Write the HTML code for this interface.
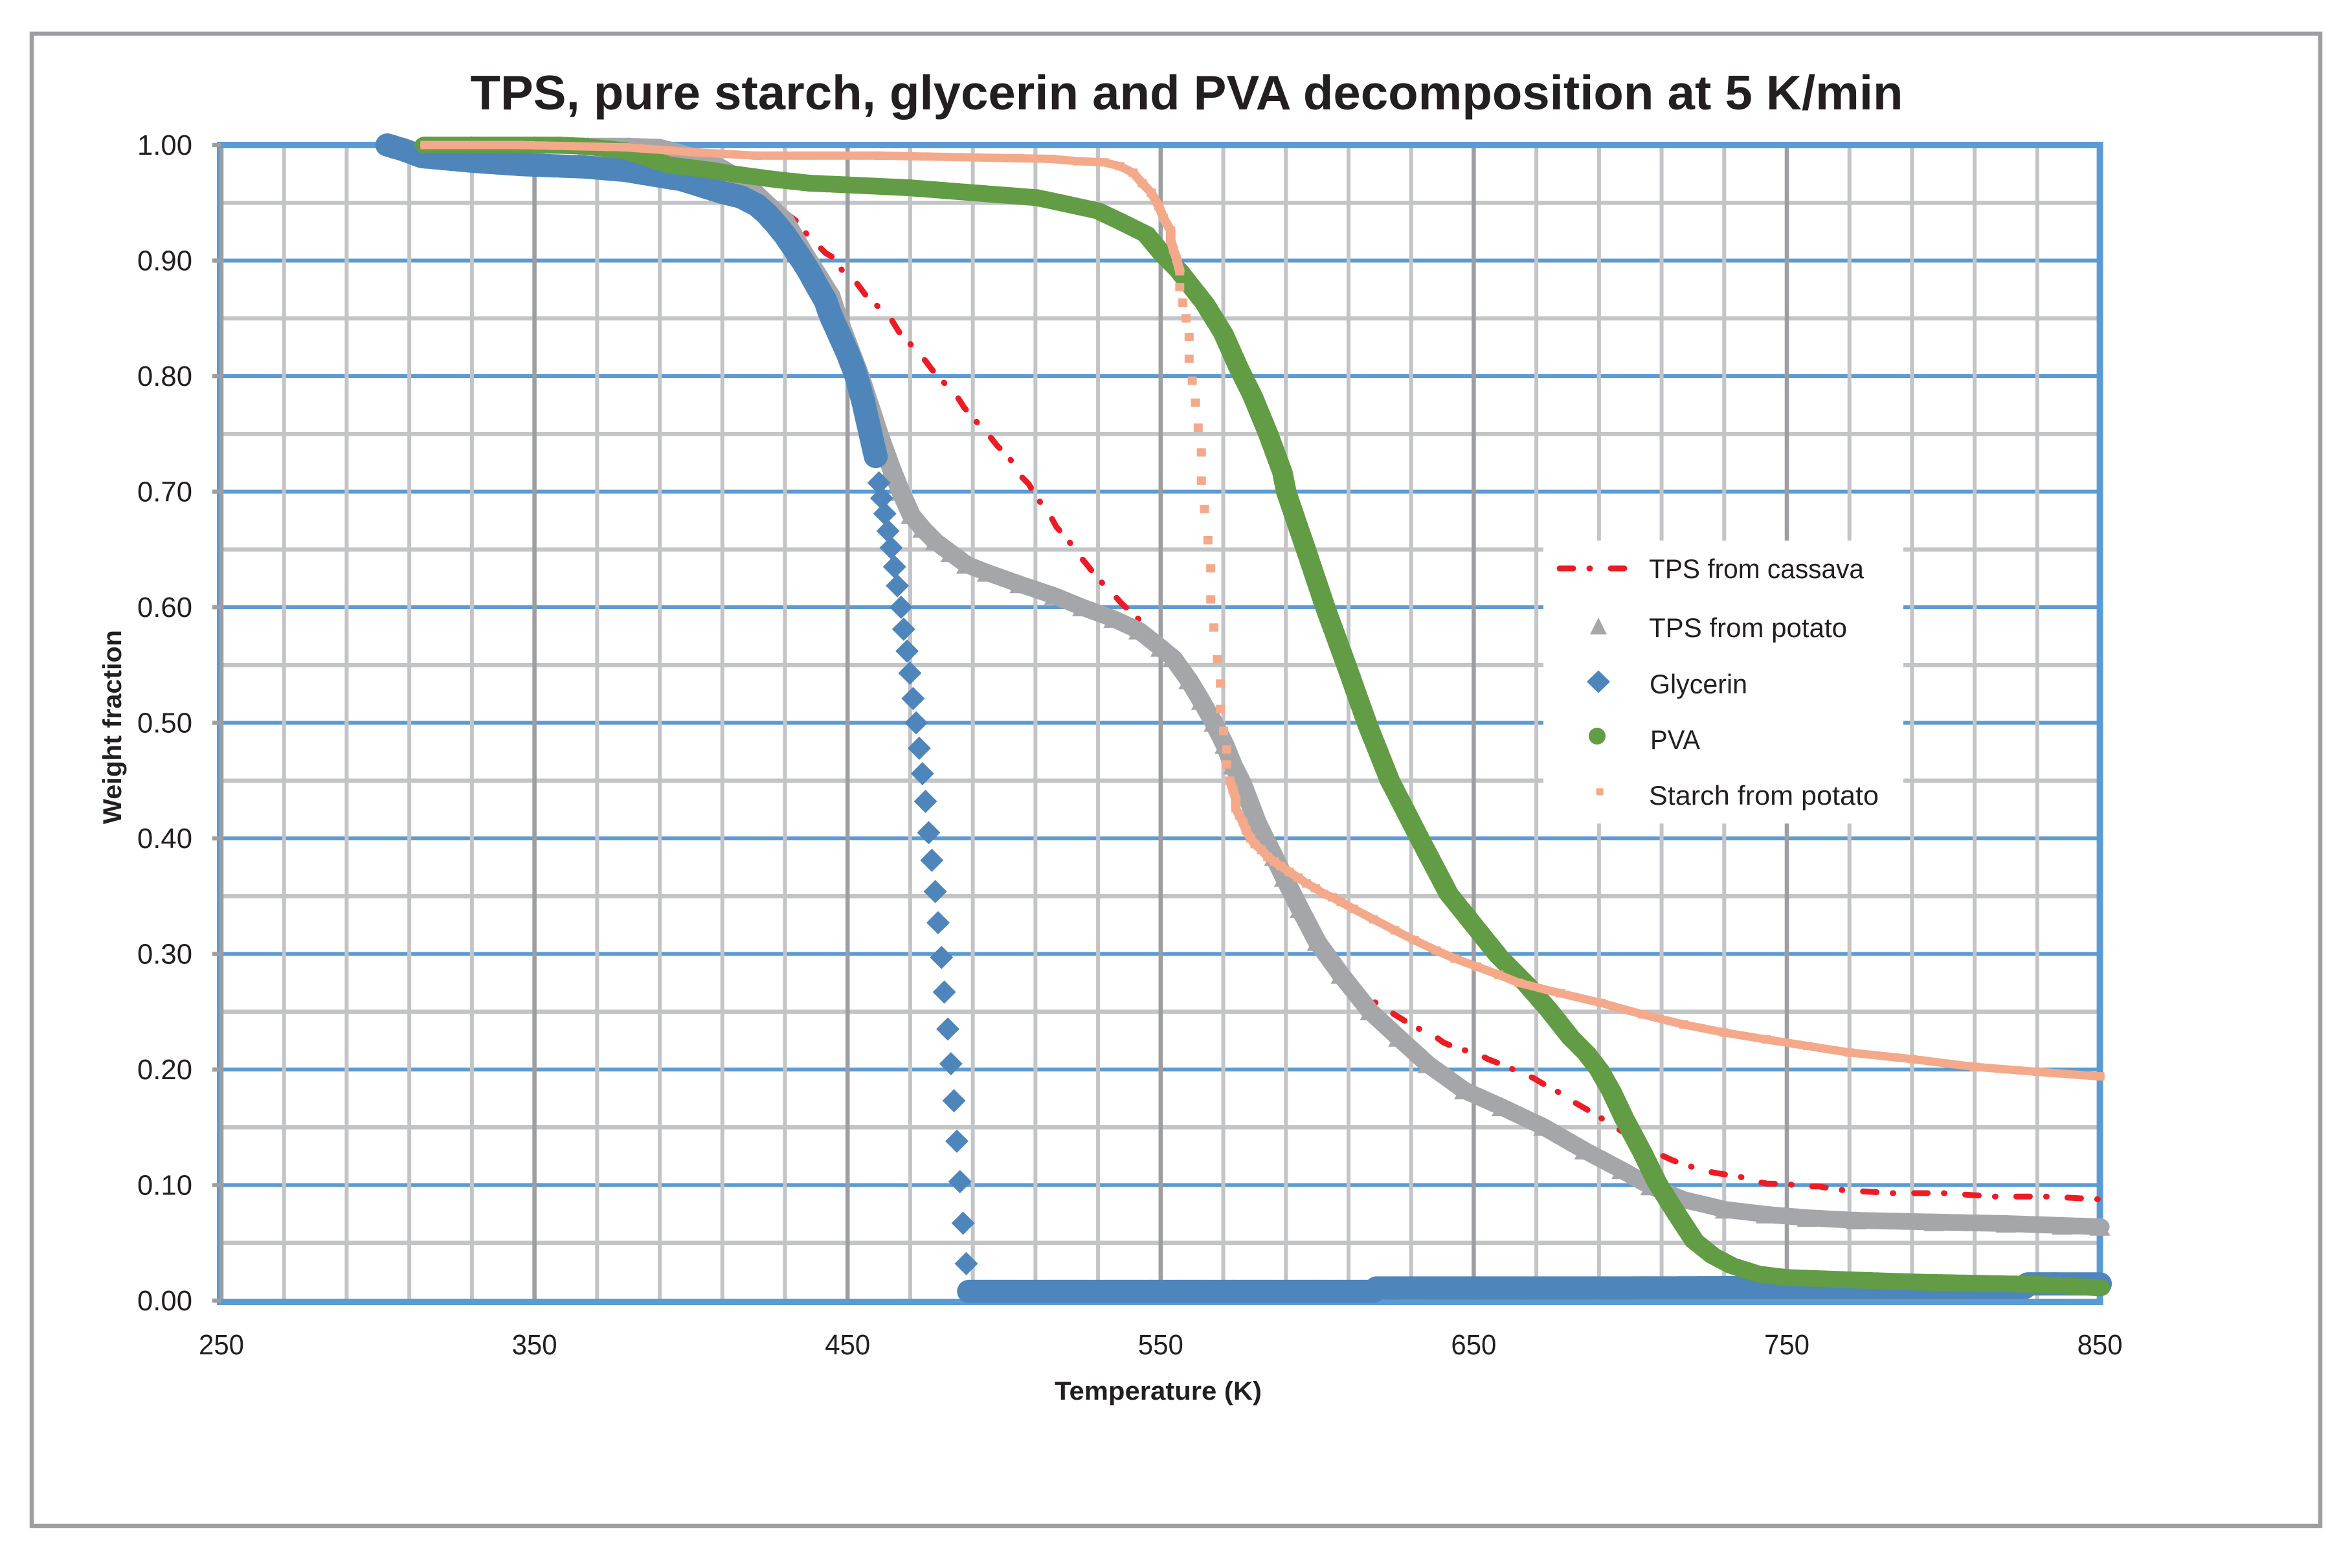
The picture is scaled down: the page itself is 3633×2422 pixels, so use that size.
<!DOCTYPE html>
<html lang="en">
<head>
<meta charset="utf-8">
<title>TPS, pure starch, glycerin and PVA decomposition at 5 K/min</title>
<style>
html,body{margin:0;padding:0;background:#fff;}
svg{display:block;}
text{font-family:"Liberation Sans",sans-serif;fill:#231f20;}
</style>
</head>
<body>
<svg id="chart" xmlns="http://www.w3.org/2000/svg" width="3633" height="2422" viewBox="0 0 3633 2422">
  <rect x="0" y="0" width="3633" height="2422" fill="#ffffff"/>
  <rect x="49" y="52" width="3535" height="2305" fill="#ffffff" stroke="#9d9ea1" stroke-width="6.5"/>
  <text x="1833" y="169" font-size="75" font-weight="700" text-anchor="middle" textLength="2213" lengthAdjust="spacingAndGlyphs">TPS, pure starch, glycerin and PVA decomposition at 5 K/min</text>
  <g id="grid"></g>
  <g id="series"></g>
  <g id="axes"></g>
  <text x="1789" y="2162" font-size="40" font-weight="700" text-anchor="middle" textLength="320" lengthAdjust="spacingAndGlyphs">Temperature (K)</text>
  <text x="0" y="0" transform="translate(187 1123) rotate(-90)" font-size="40" font-weight="700" text-anchor="middle" textLength="300" lengthAdjust="spacingAndGlyphs">Weight fraction</text>
  <g>
    <rect x="2384" y="835" width="556" height="437" fill="#ffffff"/>
    <g>
      <path d="M2409 878H2509" fill="none" stroke="#ed1c24" stroke-width="9" stroke-linecap="round" stroke-dasharray="21 25 1 32"/>
      <text x="2547" y="893" font-size="42" textLength="332" lengthAdjust="spacingAndGlyphs">TPS from cassava</text>
    </g>
    <g>
      <path d="M2469 954L2482 980H2456Z" fill="#a5a6a9"/>
      <text x="2547" y="984" font-size="42" textLength="306" lengthAdjust="spacingAndGlyphs">TPS from potato</text>
    </g>
    <g>
      <path d="M2469 1035.500L2487 1053L2469 1070.500L2451 1053Z" fill="#4e86bc"/>
      <text x="2548" y="1071" font-size="42" textLength="151" lengthAdjust="spacingAndGlyphs">Glycerin</text>
    </g>
    <g>
      <circle cx="2467" cy="1137" r="13" fill="#629c44"/>
      <text x="2549" y="1157" font-size="42" textLength="77" lengthAdjust="spacingAndGlyphs">PVA</text>
    </g>
    <g>
      <rect x="2465.500" y="1217.500" width="11" height="11" rx="2" fill="#f4a98a"/>
      <text x="2547" y="1243" font-size="42" textLength="355" lengthAdjust="spacingAndGlyphs">Starch from potato</text>
    </g>
  </g>
</svg>
<script>
const xMajorValues = [250, 350, 450, 550, 650, 750, 850];
const xMinorValues = [270, 290, 310, 330, 370, 390, 410, 430, 470, 490, 510, 530, 570, 590, 610, 630, 670, 690, 710, 730, 770, 790, 810, 830];
const yMajorValues = [0, 0.1, 0.2, 0.3, 0.4, 0.5, 0.6, 0.7, 0.8, 0.9, 1];
const yMinorValues = [0.05, 0.15, 0.25, 0.35, 0.45, 0.55, 0.65, 0.75, 0.85, 0.95];
const xTickLabels = ["250", "350", "450", "550", "650", "750", "850"];
const yTickLabels = ["0.00", "0.10", "0.20", "0.30", "0.40", "0.50", "0.60", "0.70", "0.80", "0.90", "1.00"];

const cassavaT = [430, 433.7, 437, 443, 445.2, 448.4, 452.8, 455.8, 459.8, 464, 466.4, 470.3, 474, 477, 480.7, 484.6, 487.3, 491, 494.9, 497.8, 501.7, 504.7, 507.8, 510.7, 514.4, 516.7, 520.2, 523.5, 526.7, 530.1, 534.1, 537.6, 541.4, 545.9, 548.8, 553, 560, 567, 575, 583, 590, 598, 604, 612, 618, 623, 626.8, 631.4, 636.7, 640.4, 645, 650.8, 654.5, 660, 665, 669, 673.7, 678.5, 682, 687, 691.8, 695.3, 706.5, 708.6, 713.7, 719.4, 723, 728.8, 734.8, 738.4, 743.9, 750, 753.9, 760, 768, 784, 800, 816, 832.7, 850];
const cassavaW = [0.9417, 0.934, 0.9227, 0.9065, 0.903, 0.891, 0.881, 0.87, 0.86, 0.849, 0.8384, 0.827, 0.8164, 0.8055, 0.7946, 0.784, 0.7726, 0.761, 0.7497, 0.7397, 0.7294, 0.7154, 0.7068, 0.6939, 0.681, 0.6695, 0.659, 0.6466, 0.636, 0.6243, 0.6137, 0.6031, 0.5937, 0.5822, 0.5722, 0.556, 0.53, 0.5, 0.455, 0.4, 0.36, 0.32, 0.29, 0.262, 0.259, 0.2505, 0.2441, 0.2364, 0.2304, 0.2233, 0.218, 0.2144, 0.209, 0.2033, 0.197, 0.1927, 0.1852, 0.1784, 0.1718, 0.1641, 0.1561, 0.1498, 0.1318, 0.1275, 0.1212, 0.116, 0.1126, 0.1098, 0.1075, 0.104, 0.1012, 0.1012, 0.0989, 0.0988, 0.0956, 0.093, 0.093, 0.0901, 0.0901, 0.0877];

const potatoT = [330, 350, 367, 380, 390, 397, 403, 410, 417, 424, 430, 436, 444.6, 447, 454, 460, 464, 467, 470.3, 474, 478, 483, 488, 494.6, 505, 516, 525, 535, 543, 550, 554, 559, 563, 567, 570.5, 573.2, 576, 578.7, 580.8, 583.5, 586.3, 589.5, 594.5, 600, 607.6, 616.9, 626, 635.3, 647, 659, 672.3, 685.4, 697.3, 706.5, 717, 730.3, 743.4, 756.6, 772, 797, 820, 838, 850];
const potatoW = [1, 1, 0.999, 0.999, 0.998, 0.993, 0.988, 0.98, 0.968, 0.95, 0.935, 0.907, 0.87, 0.85, 0.8, 0.75, 0.72, 0.7, 0.68, 0.668, 0.657, 0.647, 0.637, 0.63, 0.62, 0.61, 0.6, 0.59, 0.58, 0.565, 0.556, 0.537, 0.519, 0.5, 0.481, 0.463, 0.448, 0.429, 0.414, 0.399, 0.384, 0.366, 0.339, 0.3105, 0.282, 0.2504, 0.2276, 0.2047, 0.182, 0.1675, 0.1504, 0.13, 0.113, 0.099, 0.0874, 0.0789, 0.0746, 0.0717, 0.0695, 0.068, 0.0667, 0.065, 0.064];

const glycerinT = [303, 308, 314, 330, 346, 366, 379, 397, 410, 416, 421, 424, 427, 430, 432, 434, 436, 438, 440, 441.5, 443, 444, 445, 446, 447, 448, 449, 450, 451, 452, 453, 454, 455, 456, 457, 458, 459, 460, 460.9, 461.9, 462.9, 463.9, 465, 465.9, 467.1, 467.9, 469, 469.9, 470.9, 471.9, 472.9, 473.9, 474.9, 475.9, 476.9, 478, 478.9, 480, 480.9, 482, 483, 484, 484.9, 485.9, 486.9, 487.9, 488.8, 520, 560, 600, 618, 619, 660, 700, 750, 790, 826, 827, 850];
const glycerinW = [1, 0.996, 0.99, 0.986, 0.983, 0.981, 0.978, 0.97, 0.959, 0.955, 0.948, 0.941, 0.932, 0.922, 0.914, 0.906, 0.898, 0.889, 0.879, 0.872, 0.865, 0.857, 0.85, 0.844, 0.838, 0.832, 0.826, 0.82, 0.813, 0.806, 0.798, 0.788, 0.778, 0.766, 0.754, 0.742, 0.7305, 0.7076, 0.6944, 0.681, 0.666, 0.6515, 0.635, 0.6186, 0.6, 0.581, 0.562, 0.543, 0.521, 0.5, 0.478, 0.456, 0.432, 0.405, 0.381, 0.354, 0.327, 0.297, 0.267, 0.235, 0.205, 0.173, 0.138, 0.103, 0.067, 0.032, 0.008, 0.008, 0.008, 0.008, 0.008, 0.011, 0.011, 0.011, 0.0114, 0.0114, 0.0114, 0.0145, 0.0145];

const pvaT = [315, 330, 345, 358, 365.5, 379, 393, 406.8, 413.5, 427.5, 437.8, 450, 469.8, 490, 510.5, 518.2, 530, 537, 545.3, 550.6, 555.9, 564.1, 570, 574.7, 579.4, 584.2, 588.9, 590.2, 596.4, 602.7, 609.3, 616, 623.2, 632.7, 642, 650, 658, 667, 674, 681, 686, 690, 694, 698, 703.9, 708.6, 714.6, 720.5, 726.4, 732.4, 740.9, 750, 770, 792, 811, 830, 844, 850];
const pvaW = [1, 1, 1, 1, 0.999, 0.995, 0.9827, 0.978, 0.975, 0.97, 0.967, 0.9655, 0.963, 0.9587, 0.9544, 0.95, 0.943, 0.934, 0.9229, 0.9057, 0.891, 0.8628, 0.837, 0.8084, 0.7826, 0.7511, 0.7166, 0.699, 0.65, 0.599, 0.55, 0.499, 0.45, 0.4, 0.352, 0.325, 0.298, 0.2733, 0.2516, 0.2276, 0.214, 0.2, 0.181, 0.158, 0.128, 0.102, 0.076, 0.0516, 0.0388, 0.0303, 0.023, 0.02, 0.018, 0.016, 0.015, 0.014, 0.012, 0.011];

const starchT = [315, 345, 379, 400, 421, 460, 505, 515, 523.6, 532, 537, 541.2, 544.1, 547, 549.4, 550.9, 553.2, 553.2, 554.1, 555.1, 556.1, 556.1, 557.1, 558.1, 559.1, 559.1, 560.1, 561.1, 562, 563, 563, 564, 565.1, 566, 566, 567, 568.1, 569.1, 569.1, 570.1, 571.1, 571.1, 572.1, 573.1, 574, 574, 575.1, 576.3, 577.3, 578.7, 580.1, 582.2, 584.2, 586.3, 588.4, 591.1, 593.9, 596.6, 599.4, 602.1, 604.9, 607.6, 611.6, 618, 624.8, 631, 638, 644, 651, 658, 664.4, 677.6, 690.7, 704, 717, 730, 743.4, 756.6, 770, 790, 810, 830, 850];
const starchW = [1, 1, 0.998, 0.9939, 0.9908, 0.9908, 0.9885, 0.988, 0.986, 0.985, 0.9816, 0.976, 0.967, 0.9587, 0.947, 0.937, 0.9258, 0.9178, 0.9094, 0.9014, 0.8908, 0.877, 0.8636, 0.85, 0.8339, 0.815, 0.796, 0.777, 0.7554, 0.734, 0.7096, 0.685, 0.658, 0.6337, 0.6068, 0.5825, 0.555, 0.534, 0.512, 0.493, 0.477, 0.464, 0.45, 0.442, 0.434, 0.426, 0.42, 0.414, 0.407, 0.4, 0.395, 0.39, 0.384, 0.38, 0.376, 0.371, 0.366, 0.361, 0.357, 0.352, 0.349, 0.345, 0.339, 0.33, 0.3205, 0.312, 0.303, 0.296, 0.289, 0.282, 0.275, 0.266, 0.2576, 0.2476, 0.239, 0.232, 0.226, 0.2204, 0.2147, 0.209, 0.2023, 0.198, 0.194];

const SVG_NS = "http://www.w3.org/2000/svg";
const gridLayer = document.getElementById("grid");
const seriesLayer = document.getElementById("series");
const axesLayer = document.getElementById("axes");

function xScale(t) { return 342 + (t - 250) * 4.836; }
function yScale(w) { return 2009 - w * 1785; }

function makeLine(parent, x1, y1, x2, y2, color, width) {
  const el = document.createElementNS(SVG_NS, "line");
  el.setAttribute("x1", x1);
  el.setAttribute("y1", y1);
  el.setAttribute("x2", x2);
  el.setAttribute("y2", y2);
  el.setAttribute("stroke", color);
  el.setAttribute("stroke-width", width);
  parent.appendChild(el);
  return el;
}

const plotLeft = xScale(250);
const plotRight = xScale(850);
const plotTop = yScale(1);
const plotBottom = yScale(0);

yMinorValues.forEach(function (v) {
  const el = makeLine(gridLayer, plotLeft, yScale(v), plotRight, yScale(v), "#c3c4c6", 6.5);
  
  
});
yMajorValues.forEach(function (v) {
  if (v === 0 || v === 1) return;
  const el = makeLine(gridLayer, plotLeft, yScale(v), plotRight, yScale(v), "#5b9bd3", 6);
  
  
});
xMinorValues.forEach(function (v) {
  const el = makeLine(gridLayer, xScale(v), plotTop, xScale(v), plotBottom, "#c3c4c6", 6);
  
  
});
const leftBorder = makeLine(gridLayer, plotLeft - 4, plotTop - 5, plotLeft - 4, plotBottom + 7, "#5b9bd3", 6);


xMajorValues.forEach(function (v) {
  if (v === 850) return;
  const el = makeLine(gridLayer, xScale(v), plotTop, xScale(v), plotBottom, "#9d9ea1", 6.5);
  
  
});
const topBorder = makeLine(gridLayer, plotLeft - 7, plotTop, plotRight + 5, plotTop, "#5b9bd3", 10);


const rightBorder = makeLine(gridLayer, plotRight, plotTop, plotRight, plotBottom + 7, "#5b9bd3", 10);


const bottomBorder = makeLine(gridLayer, plotLeft - 7, plotBottom + 2, plotRight + 5, plotBottom + 2, "#5b9bd3", 10);



yMajorValues.forEach(function (v, i) {
  const tick = makeLine(axesLayer, 328, yScale(v), plotLeft, yScale(v), "#9d9ea1", 6.5);
  
  
  const label = document.createElementNS(SVG_NS, "text");
  
  
  label.setAttribute("x", 297);
  label.setAttribute("y", yScale(v) + 15);
  label.setAttribute("font-size", 44);
  label.setAttribute("text-anchor", "end");
  label.setAttribute("textLength", 85);
  label.setAttribute("lengthAdjust", "spacingAndGlyphs");
  label.textContent = yTickLabels[i];
  axesLayer.appendChild(label);
});
xMajorValues.forEach(function (v, i) {
  const label = document.createElementNS(SVG_NS, "text");
  
  
  label.setAttribute("x", xScale(v));
  label.setAttribute("y", 2092);
  label.setAttribute("font-size", 44);
  label.setAttribute("text-anchor", "middle");
  label.setAttribute("textLength", 70);
  label.setAttribute("lengthAdjust", "spacingAndGlyphs");
  label.textContent = xTickLabels[i];
  axesLayer.appendChild(label);
});

function markerShape(kind, x, y) {
  const a = x.toFixed(1);
  const b = y.toFixed(1);
  if (kind === "circle") return "M" + (x - 14).toFixed(1) + " " + b + "a14 13 0 1 0 28 0a14 13 0 1 0 -28 0Z";
  if (kind === "diamond") return "M" + a + " " + (y - 18).toFixed(1) + "l18 18l-18 18l-18 -18Z";
  if (kind === "triangle") return "M" + a + " " + (y - 14).toFixed(1) + "l16 28h-32Z";
  return "M" + (x - 7).toFixed(1) + " " + (y - 6.5).toFixed(1) + "h14v13h-14Z";
}

/* The brush that fills a dense run of samples. Reference bands keep a nearly
   constant thickness in every direction, so the run is swept with an ellipse. */
function brushShape(rx, ry, x, y) {
  return "M" + (x - rx).toFixed(1) + " " + y.toFixed(1) + "a" + rx + " " + ry + " 0 1 0 " + (2 * rx) + " 0a" + rx + " " + ry + " 0 1 0 " + (-2 * rx) + " 0Z";
}

function bandPath(rx, ry, ts, ws, maxStep) {
  let d = "";
  for (let i = 1; i < ts.length; i++) {
    if (Math.abs(ws[i] - ws[i - 1]) > maxStep) continue;
    const x0 = xScale(ts[i - 1]);
    const y0 = yScale(ws[i - 1]);
    const x1 = xScale(ts[i]);
    const y1 = yScale(ws[i]);
    const n = Math.max(1, Math.ceil(Math.hypot(x1 - x0, y1 - y0) / 4));
    for (let k = 0; k <= n; k++) {
      d += brushShape(rx, ry, x0 + (x1 - x0) * k / n, y0 + (y1 - y0) * k / n);
    }
  }
  return d;
}

function drawCassava() {
  const g = document.createElementNS(SVG_NS, "g");
  
  
  const line = document.createElementNS(SVG_NS, "polyline");
  
  
  line.setAttribute("points", cassavaT.map(function (t, i) { return xScale(t).toFixed(1) + "," + yScale(cassavaW[i]).toFixed(1); }).join(" "));
  line.setAttribute("fill", "none");
  line.setAttribute("stroke", "#ed1c24");
  line.setAttribute("stroke-width", 9);
  line.setAttribute("stroke-linecap", "round");
  line.setAttribute("stroke-linejoin", "round");
  line.setAttribute("stroke-dasharray", "21 25 1 32");
  g.appendChild(line);
  seriesLayer.appendChild(g);
}

function drawMarkers(groupName, pointName, kind, color, ts, ws, maxStep, rx, ry) {
  const g = document.createElementNS(SVG_NS, "g");
  
  
  const band = document.createElementNS(SVG_NS, "path");
  
  
  band.setAttribute("d", bandPath(rx, ry, ts, ws, maxStep));
  band.setAttribute("fill", color);
  g.appendChild(band);
  ts.forEach(function (t, i) {
    const mark = document.createElementNS(SVG_NS, "path");
    
    
    mark.setAttribute("d", markerShape(kind, xScale(t), yScale(ws[i])));
    mark.setAttribute("fill", color);
    g.appendChild(mark);
  });
  seriesLayer.appendChild(g);
}

drawCassava();
drawMarkers("series-tps-from-potato", "tps-from-potato-point", "triangle", "#a5a6a9", potatoT, potatoW, 1, 15, 13);
drawMarkers("series-glycerin", "glycerin-point", "diamond", "#4e86bc", glycerinT, glycerinW, 0.0125, 18.5, 18);
drawMarkers("series-pva", "pva-point", "circle", "#629c44", pvaT, pvaW, 1, 16, 13);
drawMarkers("series-starch-from-potato", "starch-from-potato-point", "square", "#f4a98a", starchT, starchW, 0.0125, 7.5, 6.5);
</script>
</body>
</html>
